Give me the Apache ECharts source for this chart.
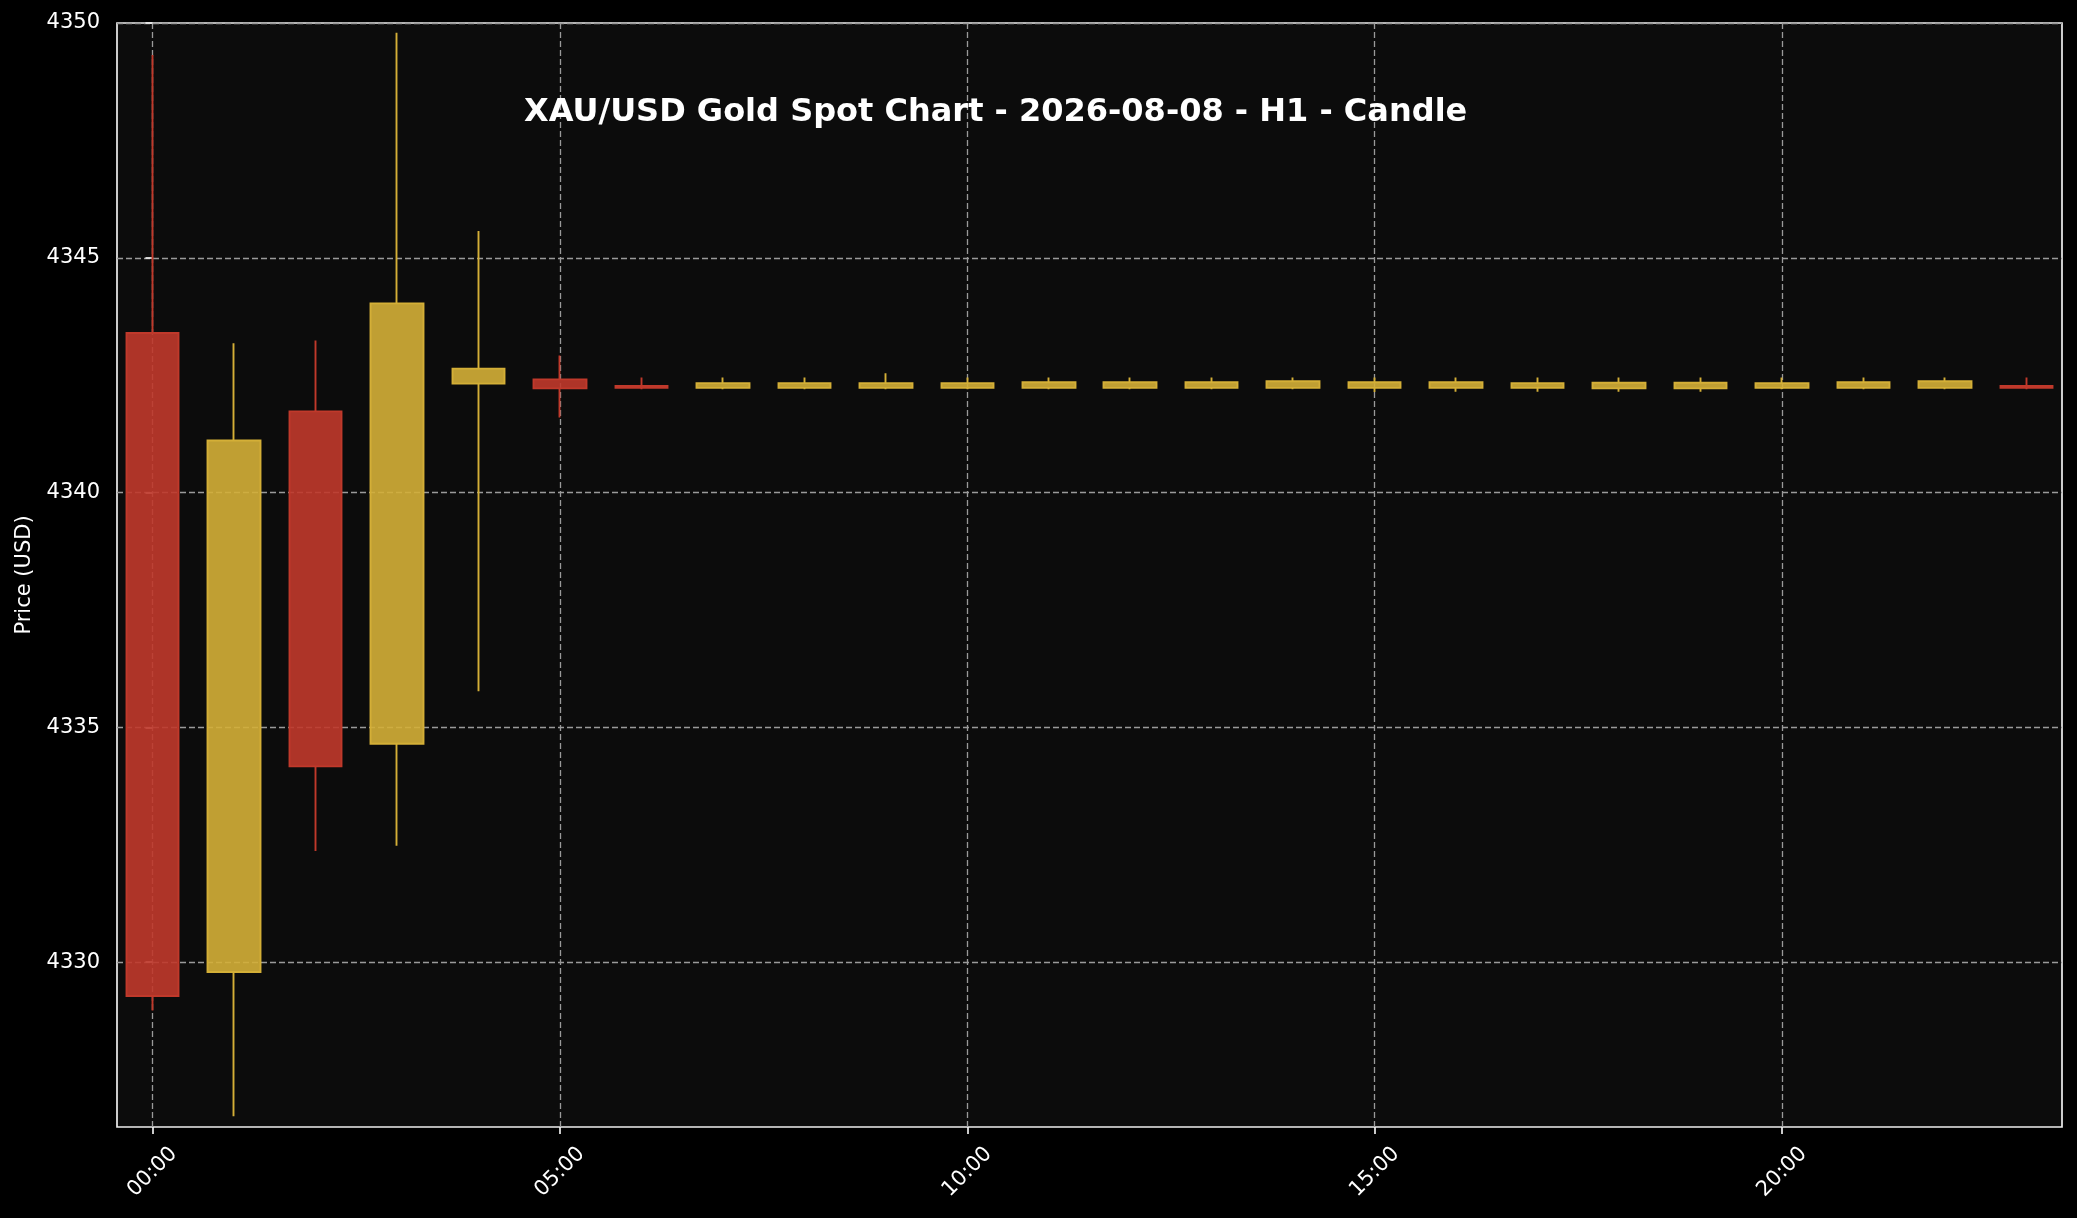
<!DOCTYPE html>
<html>
<head>
<meta charset="utf-8">
<script src="https://cdn.jsdelivr.net/npm/echarts@6/dist/echarts.min.js"></script>
<style>
html,body{margin:0;padding:0;background:#000;}
#chart{width:2077px;height:1218px;}
</style>
</head>
<body>
<div id="chart"></div>
<script>
// ---- data (hour index, OHLC) ----
const hours  = [0,1,2,3,4,5,6,7,8,9,10,11,12,13,14,15,16,17,18,19,20,21,22,23];
const opens  = [4343.40,4329.79,4341.73,4334.65,4342.32,4342.41,4342.27,4342.23,4342.23,4342.23,4342.23,4342.23,4342.23,4342.23,4342.23,4342.23,4342.23,4342.23,4342.22,4342.22,4342.23,4342.23,4342.23,4342.27];
const closes = [4329.28,4341.11,4334.17,4344.03,4342.64,4342.22,4342.23,4342.33,4342.33,4342.33,4342.33,4342.35,4342.35,4342.35,4342.37,4342.35,4342.35,4342.33,4342.34,4342.34,4342.33,4342.35,4342.37,4342.23];
const lows   = [4328.97,4326.72,4332.37,4332.48,4335.77,4341.60,4342.20,4342.20,4342.20,4342.20,4342.20,4342.20,4342.20,4342.20,4342.20,4342.14,4342.15,4342.15,4342.15,4342.15,4342.20,4342.20,4342.20,4342.20];
const highs  = [4349.32,4343.18,4343.24,4349.79,4345.57,4342.92,4342.45,4342.45,4342.45,4342.54,4342.45,4342.45,4342.45,4342.45,4342.45,4342.45,4342.45,4342.45,4342.45,4342.45,4342.45,4342.45,4342.45,4342.45];
const xTickValues = [0,5,10,15,20];
const xTickLabels = ['00:00','05:00','10:00','15:00','20:00'];
const yTickValues = [4330,4335,4340,4345,4350];
const yTickLabels = ['4330','4335','4340','4345','4350'];
const titleText = 'XAU/USD Gold Spot Chart - 2026-08-08 - H1 - Candle';
const yAxisName = 'Price (USD)';

const candleData = hours.map((h,i)=>[h, opens[i], closes[i], lows[i], highs[i]]);

const chart = echarts.init(document.getElementById('chart'), null, {renderer:'canvas'});
const FONT = 'DejaVu Sans';
const gridStyle = {color:'#9a9a9a', width:1.3, type:[6,3]};

chart.setOption({
  backgroundColor:'#000000',
  animation:false,
  textStyle:{fontFamily:FONT},
  graphic:[{
    type:'text', left:524, top:97,
    style:{text:titleText, fill:'#ffffff', font:'bold 32px "DejaVu Sans"'},
    z:100
  }],
  grid:{
    left:117, right:15, top:23, bottom:91,
    show:true, backgroundColor:'#0c0c0c', borderColor:'#eeeeee', borderWidth:1.7,
    containLabel:false, outerBoundsMode:'none'
  },
  xAxis:{
    type:'value', min:-0.435, max:23.435,
    axisLine:{show:false},
    axisTick:{show:true, inside:false, length:7, customValues:xTickValues, lineStyle:{color:'#eeeeee', width:1.7}},
    axisLabel:{
      customValues:xTickValues,
      formatter:(v)=>{const i=xTickValues.indexOf(v); return i>=0?xTickLabels[i]:'';},
      rotate:45, align:'center', verticalAlign:'middle', margin:45,
      color:'#ffffff', fontSize:21, fontFamily:FONT
    },
    splitLine:{show:true, lineStyle:gridStyle}
  },
  yAxis:{
    type:'value', min:4326.49, max:4350,
    name:yAxisName, nameLocation:'middle', nameRotate:90, nameGap:82,
    nameTextStyle:{color:'#ffffff', fontSize:21, fontFamily:FONT},
    axisLine:{show:false},
    axisTick:{show:true, inside:false, length:7, customValues:yTickValues, lineStyle:{color:'#eeeeee', width:1.7}},
    axisLabel:{
      customValues:yTickValues,
      formatter:(v)=>{const i=yTickValues.indexOf(v); return i>=0?yTickLabels[i]:'';},
      margin:17, color:'#ffffff', fontSize:21, fontFamily:FONT
    },
    splitLine:{show:true, lineStyle:gridStyle}
  },
  series:[{
    type:'candlestick',
    data:candleData,
    encode:{x:0, y:[1,2,3,4]},
    barWidth:53,
    itemStyle:{
      color:'rgba(212,175,55,0.9)', color0:'rgba(192,57,43,0.9)',
      borderColor:'#D4AF37', borderColor0:'#C0392B', borderWidth:1.9
    },
    emphasis:{disabled:true}
  }]
});
</script>
</body>
</html>
